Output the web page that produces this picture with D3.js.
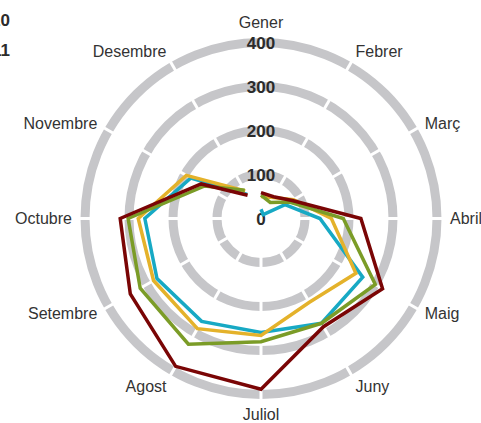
<!DOCTYPE html>
<html>
<head>
<meta charset="utf-8">
<script src="https://cdn.jsdelivr.net/npm/d3@7"></script>
<style>
  body { margin: 0; background: #fff; }
  svg { display: block; font-family: "Liberation Sans", Arial, sans-serif; }
</style>
</head>
<body>
<div id="chart"></div>
<script>
const months = ['Gener', 'Febrer', 'Març', 'Abril', 'Maig', 'Juny', 'Juliol', 'Agost', 'Setembre', 'Octubre', 'Novembre', 'Desembre'];
const ringTicks = [100, 200, 300, 400];
const legendLabels = ['2010', '2011'];

// one array per series, Gener..Desembre
const cyanValues = [21, 10, 63, 134, 267, 275, 259, 270, 273, 264, 184, 63];
const goldValues = [50, 55, 85, 160, 249, 220, 266, 289, 282, 279, 196, 72];
const greenValues = [53, 42, 75, 187, 300, 275, 280, 330, 317, 302, 148, 74];
const redValues = [59, 57, 82, 227, 319, 284, 388, 388, 343, 320, 157, 61];

const series = [
  {color: '#17a9c4', values: cyanValues},
  {color: '#e4b22b', values: goldValues},
  {color: '#7b9c27', values: greenValues},
  {color: '#7a0505', values: redValues}
];

const width = 481, height = 423;
const cx = 261, cy = 218.5;

const svg = d3.select('#chart')
  .append('svg')
  .attr('width', width)
  .attr('height', height);

const r = d3.scaleLinear().domain([0, 400]).range([0, 176]);
const angle = d3.scaleLinear().domain([0, months.length]).range([0, 2 * Math.PI]);

const g = svg.append('g').attr('transform', `translate(${cx},${cy})`);

// rings
g.selectAll('.ring')
  .data(ringTicks)
  .enter()
  .append('circle')
  .attr('class', 'ring')
  .attr('r', d => r(d))
  .attr('fill', 'none')
  .attr('stroke', '#c6c6c9')
  .attr('stroke-width', 9);

// white gaps on each month axis
g.selectAll('.gap')
  .data(months)
  .enter()
  .append('line')
  .attr('class', 'gap')
  .attr('x1', 0).attr('y1', 0)
  .attr('x2', (d, i) => Math.sin(angle(i)) * 190)
  .attr('y2', (d, i) => -Math.cos(angle(i)) * 190)
  .attr('stroke', '#fff')
  .attr('stroke-width', 3);

// tick labels on the rings
g.selectAll('.tick-label')
  .data([0].concat(ringTicks))
  .enter()
  .append('text')
  .attr('class', 'tick-label')
  .attr('x', 0)
  .attr('y', d => -r(d))
  .attr('dy', '0.36em')
  .attr('text-anchor', 'middle')
  .attr('font-size', 17)
  .attr('font-weight', 'bold')
  .attr('fill', '#2b2b2b')
  .text(d => d);

// series lines (open, Gener to Desembre)
const line = d3.lineRadial()
  .angle((d, i) => angle(i))
  .radius(d => r(d));

g.selectAll('.series')
  .data(series)
  .enter()
  .append('path')
  .attr('class', 'series')
  .attr('d', d => line(d.values))
  .attr('fill', 'none')
  .attr('stroke', d => d.color)
  .attr('stroke-width', 3.5)
  .attr('stroke-linejoin', 'miter');

// month labels
g.selectAll('.month')
  .data(months)
  .enter()
  .append('text')
  .attr('class', 'month')
  .attr('x', (d, i) => Math.sin(angle(i)) * 189)
  .attr('y', (d, i) => {
    const c = Math.cos(angle(i));
    return -c * (190 + 6 * Math.pow(Math.abs(c), 4));
  })
  .attr('dy', '0.36em')
  .attr('text-anchor', (d, i) => {
    const s = Math.sin(angle(i));
    return Math.abs(s) < 0.01 ? 'middle' : (s > 0 ? 'start' : 'end');
  })
  .attr('font-size', 16)
  .attr('fill', '#333')
  .text(d => d);

// legend, cut at the left edge
svg.selectAll('.legend')
  .data(legendLabels)
  .enter()
  .append('text')
  .attr('class', 'legend')
  .attr('x', 10)
  .attr('y', (d, i) => 20 + i * 30)
  .attr('dy', '0.36em')
  .attr('text-anchor', 'end')
  .attr('font-size', 17)
  .attr('font-weight', 'bold')
  .attr('fill', '#2b2b2b')
  .text(d => d);
</script>
</body>
</html>
